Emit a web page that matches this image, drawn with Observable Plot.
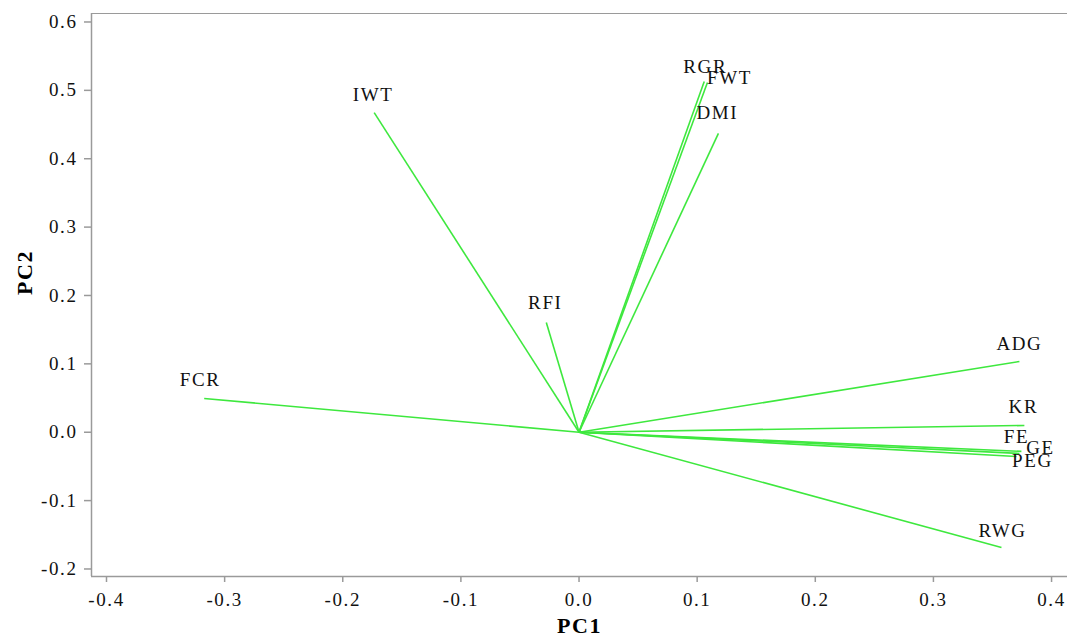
<!DOCTYPE html>
<html>
<head>
<meta charset="utf-8">
<script src="https://cdn.jsdelivr.net/npm/d3@7"></script>
<script src="https://cdn.jsdelivr.net/npm/@observablehq/plot@0.6"></script>
<style>
  html, body { margin: 0; padding: 0; background: #fff; }
</style>
</head>
<body>
<div id="chart"></div>
<script>
// Loadings (PC1, PC2) for each trait
const variables = ["RGR", "FWT", "DMI", "IWT", "RFI", "FCR", "ADG", "KR", "FE", "GE", "PEG", "RWG"];
const pc1 = [0.106, 0.1087, 0.118, -0.1734, -0.0277, -0.3173, 0.3728, 0.377, 0.3745, 0.3728, 0.3703, 0.3576];
const pc2 = [0.513, 0.5115, 0.4371, 0.4675, 0.1605, 0.0494, 0.1035, 0.0099, -0.028, -0.031, -0.0355, -0.1686];
// label nudges (pixels) relative to arrow end
const labelDx = [1, 22, -1, -1, -1, -4, 0, -1, -5, 21, 16, 1];
const labelDy = [-15, -5, -20, -18, -20, -19, -18, -19, -14, -6, 4, -17];

const xTicks = [-0.4, -0.3, -0.2, -0.1, 0.0, 0.1, 0.2, 0.3, 0.4];
const yTicks = [-0.2, -0.1, 0.0, 0.1, 0.2, 0.3, 0.4, 0.5, 0.6];

const xDomain = [-0.4127, 0.4135];
const yDomain = [-0.211, 0.6124];

const data = variables.map((name, i) => ({name, pc1: pc1[i], pc2: pc2[i]}));

const axisColor = "#9a9a9a";
const textColor = "#111";
const green = "#3ee83e";
const fmt = d => d.toFixed(1);

const chart = Plot.plot({
  width: 1067,
  height: 640,
  marginLeft: 91,
  marginRight: 0,
  marginTop: 13,
  marginBottom: 64,
  style: {fontFamily: "'Liberation Serif', 'Times New Roman', serif", letterSpacing: "1.6px", background: "#fff"},
  x: {domain: xDomain},
  y: {domain: yDomain},
  marks: [
    Plot.ruleY([yDomain[0]], {stroke: axisColor, strokeWidth: 1.5}),
    Plot.ruleY([yDomain[1]], {stroke: axisColor, strokeWidth: 1}),
    Plot.ruleX([xDomain[0]], {stroke: axisColor, strokeWidth: 1.5}),
    Plot.axisX({ticks: xTicks, tickSize: 6, text: null, stroke: axisColor, strokeWidth: 1.5, label: null}),
    Plot.axisX({ticks: xTicks, tickSize: 0, tickPadding: 16, tickFormat: fmt, fill: textColor, fontSize: 19, label: null}),
    Plot.axisY({ticks: yTicks, tickSize: 7, text: null, stroke: axisColor, strokeWidth: 1.5, label: null}),
    Plot.axisY({ticks: yTicks, tickSize: 0, tickPadding: 14, tickFormat: fmt, fill: textColor, fontSize: 19, label: null}),
    Plot.link(data, {x1: () => 0, y1: () => 0, x2: "pc1", y2: "pc2", stroke: green, strokeWidth: 1.6}),
    ...data.map((d, i) => Plot.text([d], {x: "pc1", y: "pc2", text: "name", dx: labelDx[i], dy: labelDy[i], fontSize: 19, fill: textColor})),
    Plot.text(["PC1"], {frameAnchor: "bottom", dy: 56, text: d => d, fontSize: 22, fontWeight: "bold", fill: "#000"}),
    Plot.text(["PC2"], {frameAnchor: "left", dx: -67, rotate: -90, text: d => d, fontSize: 22, fontWeight: "bold", fill: "#000"})
  ]
});
document.getElementById("chart").appendChild(chart);
</script>
</body>
</html>
